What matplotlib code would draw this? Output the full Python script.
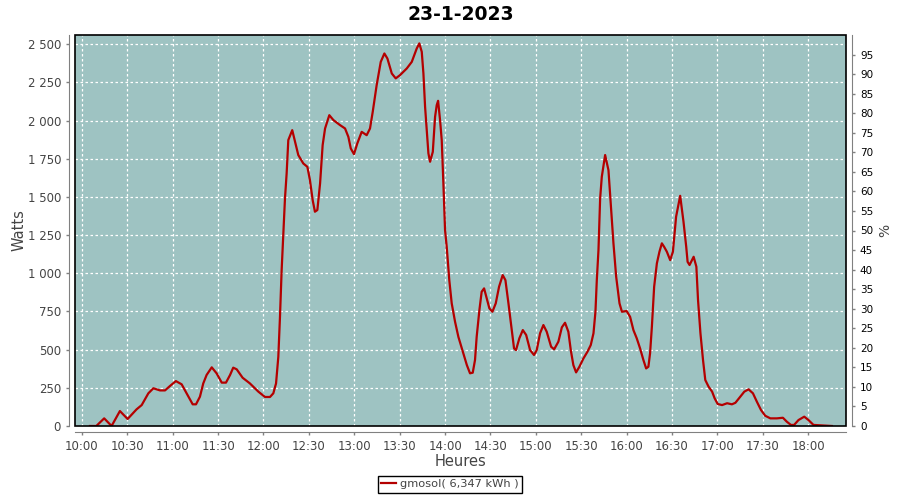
import matplotlib
matplotlib.use("Agg")
import matplotlib.pyplot as plt
from matplotlib.ticker import FuncFormatter, MultipleLocator
from matplotlib.patches import Rectangle

# minutes after 10:00 and power in watts
minutes = [5.3, 9.5, 14.7, 19.6, 25.1, 30.2, 36.1, 39.5, 43.9, 47.2,
           51.6, 54.9, 58.2, 62.1, 65.9, 69.2, 73.2, 75.4, 78.0, 80.2,
           82.4, 85.8, 89.0, 92.4, 95.2, 97.9, 100.0, 102.3, 106.2, 111.0,
           116.6, 121.0, 124.3, 126.5, 128.3, 129.8, 130.9, 132.0, 134.2, 135.3,
           136.4, 139.0, 143.0, 146.3, 149.0, 150.7, 152.5, 154.0, 155.6, 157.4,
           159.1, 160.7, 163.5, 166.2, 170.6, 173.9, 176.1, 177.7, 179.8, 182.0,
           184.9, 188.2, 190.4, 192.2, 194.8, 197.5, 199.9, 201.9, 204.8, 207.4,
           210.2, 214.7, 218.0, 221.3, 223.0, 224.6, 225.7, 226.8, 227.9, 229.0,
           230.1, 231.9, 233.4, 234.5, 235.4, 236.7, 237.8, 238.9, 240.0, 241.1,
           242.8, 244.4, 246.6, 248.8, 251.1, 254.4, 256.5, 258.3, 259.8, 260.9,
           262.7, 264.2, 265.8, 267.5, 269.3, 271.3, 273.5, 275.7, 278.1, 279.9,
           281.9, 284.1, 285.6, 286.9, 289.1, 291.4, 293.6, 296.2, 298.8, 300.6,
           302.8, 305.0, 307.2, 310.1, 312.1, 314.9, 317.2, 319.3, 321.5, 323.1,
           324.8, 326.6, 328.8, 331.5, 334.1, 336.3, 338.1, 339.4, 340.3, 341.4,
           342.5, 343.6, 345.8, 348.0, 349.8, 351.3, 353.1, 355.3, 356.9, 360.0,
           362.3, 364.5, 366.7, 368.9, 371.1, 372.9, 374.4, 375.5, 376.7, 378.2,
           380.0, 381.7, 383.3, 384.8, 386.6, 388.8, 390.6, 392.7, 395.4, 397.6,
           399.4, 400.3, 401.6, 404.3, 406.1, 407.2, 408.8, 410.5, 412.0, 414.2,
           416.5, 418.2, 420.2, 423.1, 426.4, 429.6, 431.9, 435.1, 437.8, 440.6,
           443.5, 446.1, 448.8, 451.6, 455.0, 459.3, 463.3, 465.9, 468.6, 470.7,
           473.6, 477.4, 480.2, 483.5, 495.7]
watts = [0, 0, 50, 0, 98, 46, 109, 137, 214, 247,
         233, 233, 262, 294, 273, 214, 142, 142, 192, 279,
         334, 384, 345, 284, 284, 334, 382, 371, 316, 279,
         225, 190, 190, 214, 279, 453, 715, 1021, 1490, 1654,
         1872, 1937, 1774, 1719, 1697, 1610, 1479, 1403, 1414, 1588,
         1839, 1948, 2035, 2003, 1970, 1948, 1893, 1817, 1780, 1850,
         1926, 1904, 1948, 2057, 2232, 2384, 2439, 2406, 2308, 2276,
         2297, 2341, 2384, 2472, 2505, 2450, 2308, 2090, 1937, 1785,
         1730, 1795, 2024, 2101, 2129, 2003, 1872, 1588, 1283, 1173,
         955, 803, 683, 584, 508, 399, 345, 349, 432, 584,
         759, 879, 901, 836, 770, 748, 803, 912, 988, 955,
         803, 628, 508, 497, 574, 628, 596, 497, 465, 497,
         607, 661, 617, 519, 502, 552, 646, 676, 617, 497,
         399, 351, 388, 443, 486, 530, 607, 748, 955, 1152,
         1490, 1632, 1774, 1675, 1414, 1196, 977, 803, 748, 753,
         715, 628, 574, 508, 432, 377, 388, 476, 650, 912,
         1065, 1141, 1196, 1173, 1141, 1086, 1141, 1370, 1507, 1337,
         1173, 1075, 1054, 1108, 1043, 825, 607, 432, 301, 257,
         225, 181, 144, 137, 149, 142, 152, 192, 225, 240,
         214, 159, 105, 67, 50, 50, 54, 28, 7, 7,
         39, 61, 39, 7, 0]

title = "23-1-2023"
series_label = "gmosol( 6,347 kWh )"
start_hour = 10

bg = "#9ec3c2"
red = "#b40000"
txt = "#444444"
axis_grey = "#808080"

fig = plt.figure(figsize=(9, 5), dpi=100)
ax = fig.add_axes([0.0833, 0.148, 0.8567, 0.782])
ax.set_facecolor(bg)

line, = ax.plot(minutes, watts, color=red, lw=1.6, label=series_label, zorder=3)

ax.set_xlim(-4.6, 505)
ax.set_ylim(0, 2560)
ax.xaxis.set_major_locator(MultipleLocator(30))
ax.yaxis.set_major_locator(MultipleLocator(250))
ax.xaxis.set_major_formatter(FuncFormatter(
    lambda v, p: "%d:%02d" % (start_hour + int(v) // 60, int(v) % 60)))
ax.yaxis.set_major_formatter(FuncFormatter(
    lambda v, p: f"{int(v):,}".replace(",", " ")))

ax.grid(True, color="white", ls=(0, (2, 2)), lw=0.9)
ax.set_axisbelow(True)

for s in ["top", "right"]:
    ax.spines[s].set_visible(False)
for s in ["left", "bottom"]:
    ax.spines[s].set_position(("outward", 4))
    ax.spines[s].set_color(axis_grey)
ax.add_patch(Rectangle((0, 0), 1, 1, transform=ax.transAxes, fill=False,
                       edgecolor="black", lw=1.2, clip_on=False, zorder=4))
ax.tick_params(colors=axis_grey, labelcolor=txt, labelsize=8.5, length=2.5, width=1)

ax.set_ylabel("Watts", fontsize=10.5, color=txt, labelpad=1)
ax.set_xlabel("Heures", fontsize=10.5, color=txt, labelpad=1)
ax.set_title(title, fontsize=13.5, fontweight="bold", pad=11)

# secondary percent axis
ax2 = ax.twinx()
ax2.set_ylim(0, 100)
ax2.set_yticks(range(0, 100, 5))
for s in ["top", "left", "bottom"]:
    ax2.spines[s].set_visible(False)
ax2.spines["right"].set_position(("outward", 4))
ax2.spines["right"].set_color(axis_grey)
ax2.tick_params(colors=axis_grey, labelcolor="black", labelsize=7.5, length=2.5, width=1)
ax2.set_ylabel("%", fontsize=10, color=txt)

fig.legend(handles=[line], loc="lower center", bbox_to_anchor=(0.5, 0.003),
           frameon=True, fancybox=False, edgecolor="black", framealpha=1,
           fontsize=8.2, handlelength=1.3, handletextpad=0.4,
           borderpad=0.3, labelcolor=txt)

fig.savefig("out.png", dpi=100)
